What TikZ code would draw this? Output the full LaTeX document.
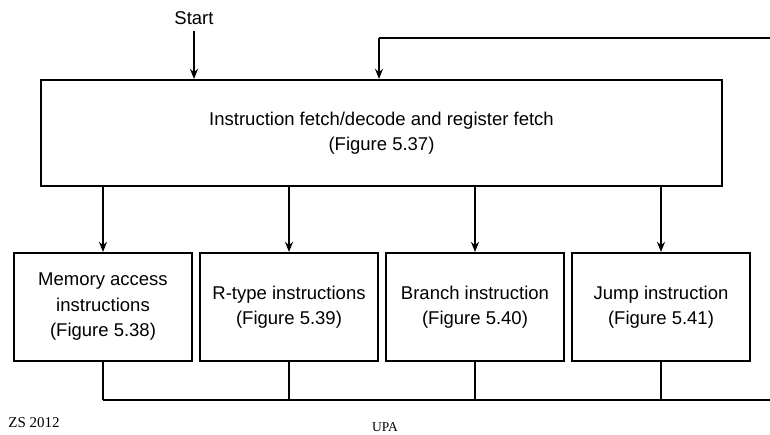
\documentclass[tikz,border=0pt]{standalone}
\usepackage{fontspec}
\setmainfont{Liberation Sans}
\newfontfamily\notefont{Liberation Serif}
\usetikzlibrary{arrows.meta}

\tikzset{
	stage/.style={draw,line width=2.2pt,align=center,inner sep=0pt,
		font=\fontsize{18.5}{25.5}\selectfont},
	substage/.style={stage,minimum width=178pt,minimum height=108pt},
	flow/.style={line width=1.6pt,-{Stealth[length=10pt,width=8pt]}},
	link/.style={line width=1.6pt},
}

\begin{document}
\begin{tikzpicture}[x=1pt,y=-1pt]
	\useasboundingbox (0,0) rectangle (770,435);
	% fetch stage and the four execution stages
	\node[stage,minimum width=681pt,minimum height=106pt] (fetch) at (381.5,133)
		{Instruction fetch/decode and register fetch\\(Figure 5.37)};
	\node[substage] (mem) at (103,307) {Memory access\\instructions\\(Figure 5.38)};
	\node[substage] (rtype) at (289,307) {R-type instructions\\(Figure 5.39)};
	\node[substage] (branch) at (475,307) {Branch instruction\\(Figure 5.40)};
	\node[substage] (jump) at (661,307) {Jump instruction\\(Figure 5.41)};
	\node[font=\fontsize{18.5}{20}\selectfont,inner sep=0pt] (start) at (194,18) {Start};
	% loop back to the fetch stage
	\coordinate (ret) at (770,400);
	\coordinate (loop) at (770,38);
	\coordinate (back) at (379,38);
	\draw[flow] (start.south) ++(0,6) -- (start |- fetch.north);
	\draw[link] (loop) -- (back);
	\draw[flow] (back) -- (back |- fetch.north);
	\foreach \s in {mem,rtype,branch,jump} {
			\draw[flow] (fetch.south -| \s.north) -- (\s.north);
			\draw[link] (\s.south) -- (\s.south |- ret);
		}
	\draw[link] (mem.south |- ret) -- (ret);
	% footer
	\node[font=\notefont\fontsize{15}{17}\selectfont,inner sep=0pt] (zs) at (34,423) {ZS 2012};
	\node[font=\notefont\fontsize{13.5}{15}\selectfont,inner sep=0pt] (upa) at (385,427) {UPA};
\end{tikzpicture}
\end{document}
